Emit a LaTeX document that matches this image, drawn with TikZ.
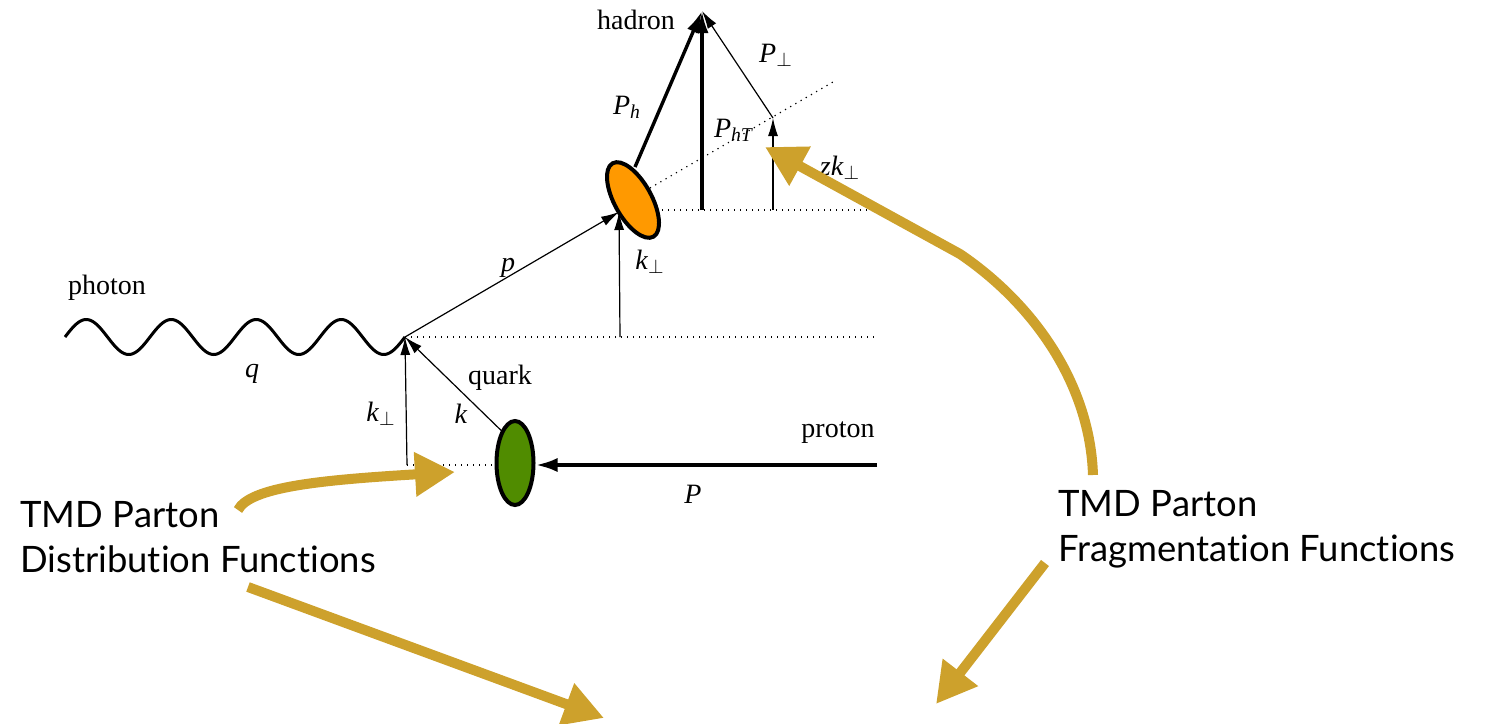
\documentclass[tikz,border=0pt]{standalone}
\usepackage{fontspec}
\setmainfont{Liberation Serif}
\newfontfamily\tmdfont{Lato}[Ligatures=NoCommon]
\usetikzlibrary{arrows.meta,shapes.geometric}
\definecolor{gold}{RGB}{205,161,44}
\definecolor{qgreen}{RGB}{80,140,0}
\definecolor{horange}{RGB}{255,153,0}
\newcommand{\kperp}{\textit{k}\textsubscript{$\perp$}}
\begin{document}
\begin{tikzpicture}[x=0.5pt,y=-0.5pt,
  thinarrow/.style={line width=0.6pt,-{Latex[length=9pt,width=5pt]}},
  thickarrow/.style={line width=1.7pt,-{Latex[length=11pt,width=6.5pt]}},
  protarrow/.style={line width=2pt,-{Latex[length=11pt,width=7pt]}},
  dotline/.style={line width=0.6pt,dash pattern=on 0.6pt off 2.4pt},
  blob/.style={ellipse,draw,line width=2pt,inner sep=0pt,minimum width=18.5pt,minimum height=42pt},
  lbl/.style={font=\fontsize{14}{16}\selectfont,inner sep=0pt},
  tmd/.style={font=\tmdfont\fontsize{18.2}{22.5}\selectfont,align=left,inner sep=0pt,anchor=base west},
  goldarrow/.style={draw=gold,line width=5pt,-{Triangle[length=20pt,width=21pt,fill=gold]}}
]
\useasboundingbox (0,0) rectangle (1494,723);

% coordinates
\coordinate (ph) at (65,337);
\coordinate (V) at (405,337);
\coordinate (kLb) at (407,465);
\coordinate (protonR) at (877,465);
\coordinate (du) at (877,337);
\coordinate (kmb) at (620,337);
\coordinate (H) at (619,212);
\coordinate (Phs) at (635,167);
\coordinate (had) at (702,11);
\coordinate (PhTb) at (702,210);
\coordinate (Q) at (773,118);
\coordinate (zkb) at (773,210);
\coordinate (dgs) at (650,188);
\coordinate (dge) at (833,82);
\coordinate (dms) at (662,210);
\coordinate (dme) at (877,210);

% blobs
\node[blob,fill=qgreen] (green) at (515,463) {};
\node[blob,fill=horange,rotate=29] (orange) at (633,200) {};

% photon
\draw[line width=1.5pt] plot[domain=65:405,samples=200,smooth] (\x,{337-17.5*sin(4.2352941*(\x-65))});

% dotted
\draw[dotline] (kLb) -- (green.west |- kLb);
\draw[dotline] (V) -- (du);
\draw[dotline] (dms) -- (dme);
\draw[dotline] (dgs) -- (dge);

% lines
\draw[thinarrow] (kLb) -- (V);
\draw[thinarrow] (green.113) -- (V);
\draw[protarrow] (protonR) -- (green.east |- protonR);
\draw[thinarrow] (V) -- (H);
\draw[thinarrow] (kmb) -- (H);
\draw[thinarrow] (zkb) -- (Q);
\draw[thinarrow] (Q) -- (had);
\draw[thickarrow] (Phs) -- (had);
\draw[thickarrow] (PhTb) -- (had);

% labels
\node[lbl] (hadronl) at (636,20) {hadron};
\node[lbl] (pperpl) at (776,55) {\textit{P}\textsubscript{$\perp$}};
\node[lbl] (phl) at (627,107) {\textit{P}\textsubscript{\textit{h}}};
\node[lbl] (phtl) at (734,130) {\textit{P}\textsubscript{\textit{hT}}};
\node[lbl] (zkl) at (840,168) {\textit{z}\kperp};
\node[lbl] (kml) at (650,262) {\kperp};
\node[lbl] (pl) at (508,268) {\textit{p}};
\node[lbl] (photonl) at (107,288) {photon};
\node[lbl] (ql) at (252,374) {\textit{q}};
\node[lbl] (kll) at (381,414) {\kperp};
\node[lbl] (quarkl) at (500,378) {quark};
\node[lbl] (kl) at (461,414) {\textit{k}};
\node[lbl] (protonl) at (838,433) {proton};
\node[lbl] (Pl) at (693,494) {\textit{P}};

% TMD texts
\node[tmd] (pdf) at (20,572) {TMD Parton\\Distribution Functions};
\node[tmd] (ff) at (1058,561) {TMD Parton\\Fragmentation Functions};

% gold arrows
\coordinate (g1s) at (238,510);
\coordinate (g1e) at (455,472);
\coordinate (g2s) at (248,587);
\coordinate (g2e) at (604,718);
\coordinate (g3s) at (1093,475);
\coordinate (g3m) at (960,254);
\coordinate (g3e) at (765,147);
\coordinate (g4s) at (1045,563);
\coordinate (g4e) at (936,704);
\draw[goldarrow] (g1s) .. controls (250,487) and (320,480) .. (g1e);
\draw[goldarrow] (g2s) -- (g2e);
\draw[goldarrow] (g3s) .. controls (1090,385) and (1035,305) .. (g3m) -- (g3e);
\draw[goldarrow] (g4s) -- (g4e);
\end{tikzpicture}
\end{document}
